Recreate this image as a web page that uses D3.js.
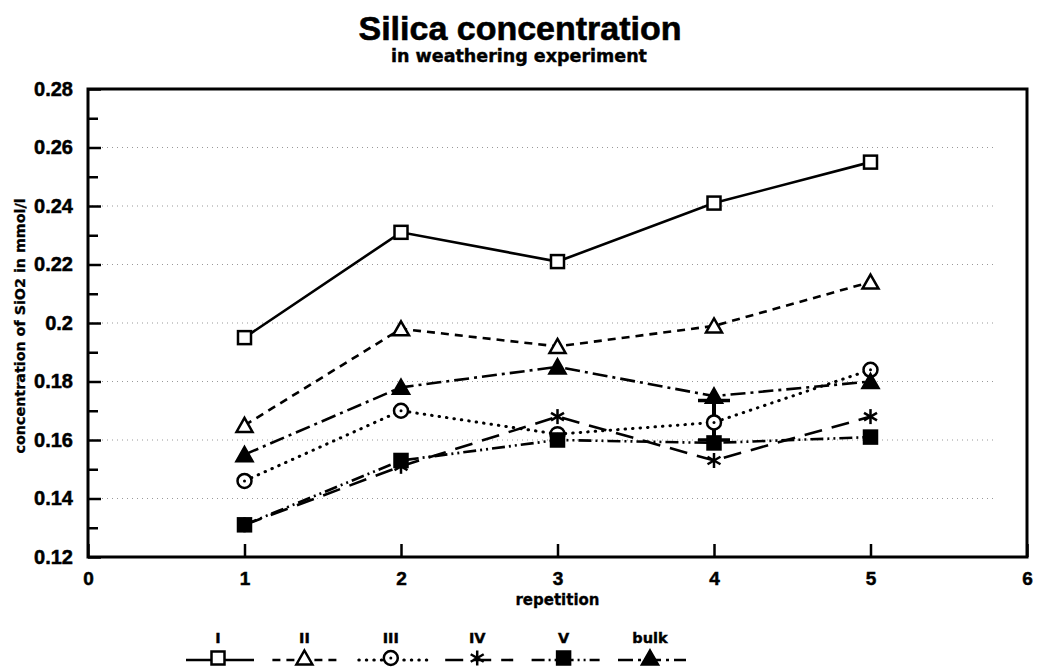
<!DOCTYPE html>
<html>
<head>
<meta charset="utf-8">
<script src="https://cdn.jsdelivr.net/npm/d3@7"></script>
<style>
  html, body { margin: 0; padding: 0; background: #fff; }
  svg { display: block; }
</style>
</head>
<body>
<svg id="chart" width="1037" height="667"></svg>
<script>
// ---------- data ----------
const repetitions = [1, 2, 3, 4, 5];
const seriesNames = ["I", "II", "III", "IV", "V", "bulk"];
const valuesI    = [0.195, 0.231, 0.221, 0.241, 0.255];
const valuesII   = [0.165, 0.198, 0.192, 0.199, 0.214];
const valuesIII  = [0.146, 0.170, 0.162, 0.166, 0.184];
const valuesIV   = [0.131, 0.151, 0.168, 0.153, 0.168];
const valuesV    = [0.131, 0.153, 0.160, 0.159, 0.161];
const valuesBulk = [0.155, 0.178, 0.185, 0.175, 0.180];
const bulkErrRep  = [4];
const bulkErrLow  = [0.160];
const bulkErrHigh = [0.1735];
const xTickValues = [0, 1, 2, 3, 4, 5, 6];
const yTickValues = [0.12, 0.14, 0.16, 0.18, 0.2, 0.22, 0.24, 0.26, 0.28];
const yMinorTickValues = [0.13, 0.15, 0.17, 0.19, 0.21, 0.23, 0.25, 0.27];
const gridValues = [0.14, 0.16, 0.18, 0.2, 0.22, 0.24, 0.26];
const titleText = "Silica concentration";
const subtitleText = "in weathering experiment";
const xLabelText = "repetition";
const yLabelText = "concentration of SiO2 in mmol/l";

// ---------- styles ----------
const seriesValues = [valuesI, valuesII, valuesIII, valuesIV, valuesV, valuesBulk];
const styles = {
  "I":    { dash: null,              marker: "squareOpen",   cap: "butt" },
  "II":   { dash: "8,6",             marker: "triangleOpen", cap: "butt" },
  "III":  { dash: "0.5,7",           marker: "circleDot",    cap: "round" },
  "IV":   { dash: "18,10",           marker: "asterisk",     cap: "butt" },
  "V":    { dash: "13,4,2,4,2,4",    marker: "squareFilled", cap: "butt" },
  "bulk": { dash: "15,5,3,5",        marker: "triangleFilled", cap: "butt" }
};

const svg = d3.select("#chart");
const plotLeft = 88, plotRight = 1027, plotTop = 89, plotBottom = 557;

const x = d3.scaleLinear().domain([0, 6]).range([plotLeft, plotRight]);
const y = d3.scaleLinear().domain([0.12, 0.28]).range([plotBottom, plotTop]);

const sans = "'Liberation Sans', Arial, sans-serif";
const heavy = "'DejaVu Sans', sans-serif";

// title
svg.append("text").attr("x", 520).attr("y", 40)
  .attr("text-anchor", "middle")
  .style("font-family", sans).style("font-weight", "bold").style("font-size", "34px")
  .attr("stroke", "#000").attr("stroke-width", 0.6)
  .text(titleText);
svg.append("text").attr("x", 519).attr("y", 62)
  .attr("text-anchor", "middle")
  .style("font-family", heavy).style("font-weight", "bold").style("font-size", "17.5px")
  .attr("stroke", "#000").attr("stroke-width", 0.4)
  .text(subtitleText);

// gridlines
svg.append("g").selectAll("line").data(gridValues).join("line")
  .attr("x1", plotLeft + 4).attr("x2", x(5.8))
  .attr("y1", d => y(d)).attr("y2", d => y(d))
  .attr("stroke", "#999").attr("stroke-width", 1)
  .attr("stroke-dasharray", "1,4");

// axes
const yAxis = d3.axisLeft(y).tickValues(yTickValues)
  .tickFormat(d => String(+d.toFixed(2)))
  .tickSize(-13).tickPadding(15);
const gy = svg.append("g").attr("transform", `translate(${plotLeft},0)`).call(yAxis);
gy.select(".domain").remove();
gy.selectAll(".tick line").attr("stroke", "#000").attr("stroke-width", 2.5);
gy.selectAll(".tick text")
  .style("font-family", sans).style("font-weight", "bold").style("font-size", "20px")
  .attr("fill", "#000").attr("stroke", "#000").attr("stroke-width", 0.5);

const yMinor = d3.axisLeft(y).tickValues(yMinorTickValues).tickFormat("").tickSize(-10);
const gym = svg.append("g").attr("transform", `translate(${plotLeft},0)`).call(yMinor);
gym.select(".domain").remove();
gym.selectAll(".tick line").attr("stroke", "#000").attr("stroke-width", 2.5);

const xAxis = d3.axisBottom(x).tickValues(xTickValues).tickFormat(d3.format("d"))
  .tickSize(-13).tickPadding(15);
const gx = svg.append("g").attr("transform", `translate(0,${plotBottom})`).call(xAxis);
gx.select(".domain").remove();
gx.selectAll(".tick line").attr("stroke", "#000").attr("stroke-width", 2.5);
gx.selectAll(".tick text")
  .style("font-family", sans).style("font-weight", "bold").style("font-size", "19px")
  .attr("fill", "#000").attr("stroke", "#000").attr("stroke-width", 0.5);

// frame
svg.append("rect").attr("x", plotLeft).attr("y", plotTop)
  .attr("width", plotRight - plotLeft).attr("height", plotBottom - plotTop)
  .attr("fill", "none").attr("stroke", "#000").attr("stroke-width", 3);

// axis labels
svg.append("text").attr("x", x(3)).attr("y", 605)
  .attr("text-anchor", "middle")
  .style("font-family", heavy).style("font-weight", "bold").style("font-size", "15px")
  .attr("stroke", "#000").attr("stroke-width", 0.3)
  .text(xLabelText);
svg.append("text")
  .attr("transform", `translate(25,${y(0.199)}) rotate(-90)`)
  .attr("text-anchor", "middle")
  .style("font-family", heavy).style("font-weight", "bold").style("font-size", "14.3px")
  .attr("stroke", "#000").attr("stroke-width", 0.3)
  .text(yLabelText);

// markers
function marker(g, type, cx, cy) {
  const s = 6.5;
  if (type === "squareOpen" || type === "squareFilled") {
    g.append("rect").attr("x", cx - s).attr("y", cy - s).attr("width", 2 * s).attr("height", 2 * s)
      .attr("fill", type === "squareFilled" ? "#000" : "#fff")
      .attr("stroke", "#000").attr("stroke-width", 2.5);
  } else if (type === "triangleOpen" || type === "triangleFilled") {
    const h = 7.5;
    g.append("path")
      .attr("d", `M${cx},${cy - h} L${cx + 8},${cy + h - 1} L${cx - 8},${cy + h - 1} Z`)
      .attr("fill", type === "triangleFilled" ? "#000" : "#fff")
      .attr("stroke", "#000").attr("stroke-width", 2.5).attr("stroke-linejoin", "miter");
  } else if (type === "circleDot") {
    g.append("circle").attr("cx", cx).attr("cy", cy).attr("r", 7)
      .attr("fill", "#fff").attr("stroke", "#000").attr("stroke-width", 2.5);
    g.append("circle").attr("cx", cx).attr("cy", cy).attr("r", 1.5).attr("fill", "#000");
  } else if (type === "asterisk") {
    const r = 7.5;
    [90, 30, 150].forEach(a => {
      const rad = a * Math.PI / 180;
      g.append("line")
        .attr("x1", cx - r * Math.cos(rad)).attr("y1", cy - r * Math.sin(rad))
        .attr("x2", cx + r * Math.cos(rad)).attr("y2", cy + r * Math.sin(rad))
        .attr("stroke", "#000").attr("stroke-width", 2.5);
    });
  }
}

// series lines
const line = d3.line().x((d, i) => x(repetitions[i])).y(d => y(d));
const linesG = svg.append("g");
seriesNames.forEach((name, k) => {
  const st = styles[name];
  linesG.append("path").datum(seriesValues[k])
    .attr("d", line)
    .attr("fill", "none").attr("stroke", "#000")
    .attr("stroke-width", st.cap === "round" ? 3 : 2.6)
    .attr("stroke-linecap", st.cap)
    .attr("stroke-dasharray", st.dash);
});

// error bar (bulk, repetition 4)
const errG = svg.append("g");
bulkErrRep.forEach((r, i) => {
  errG.append("line").attr("x1", x(r)).attr("x2", x(r))
    .attr("y1", y(bulkErrHigh[i])).attr("y2", y(bulkErrLow[i]))
    .attr("stroke", "#000").attr("stroke-width", 4);
  [bulkErrHigh[i], bulkErrLow[i]].forEach(v => {
    errG.append("line").attr("x1", x(r) - 16).attr("x2", x(r) + 16)
      .attr("y1", y(v)).attr("y2", y(v))
      .attr("stroke", "#000").attr("stroke-width", 3.5);
  });
});

// markers on top
const markG = svg.append("g");
seriesNames.forEach((name, k) => {
  seriesValues[k].forEach((v, i) => marker(markG, styles[name].marker, x(repetitions[i]), y(v)));
});

// legend
const lx = d3.scalePoint().domain(seriesNames).range([218, 650]);
const legG = svg.append("g");
seriesNames.forEach(name => {
  const st = styles[name];
  const cx = lx(name);
  legG.append("text").attr("x", cx).attr("y", 643)
    .attr("text-anchor", "middle")
    .style("font-family", heavy).style("font-weight", "bold").style("font-size", "14.5px")
    .attr("stroke", "#000").attr("stroke-width", 0.4)
    .text(name);
  legG.append("line").attr("x1", cx - 32).attr("x2", cx + 36)
    .attr("y1", 660).attr("y2", 660)
    .attr("stroke", "#000").attr("stroke-width", st.cap === "round" ? 3 : 2.6)
    .attr("stroke-linecap", st.cap)
    .attr("stroke-dasharray", st.dash);
  marker(legG, st.marker, cx, 658);
});
</script>
</body>
</html>
